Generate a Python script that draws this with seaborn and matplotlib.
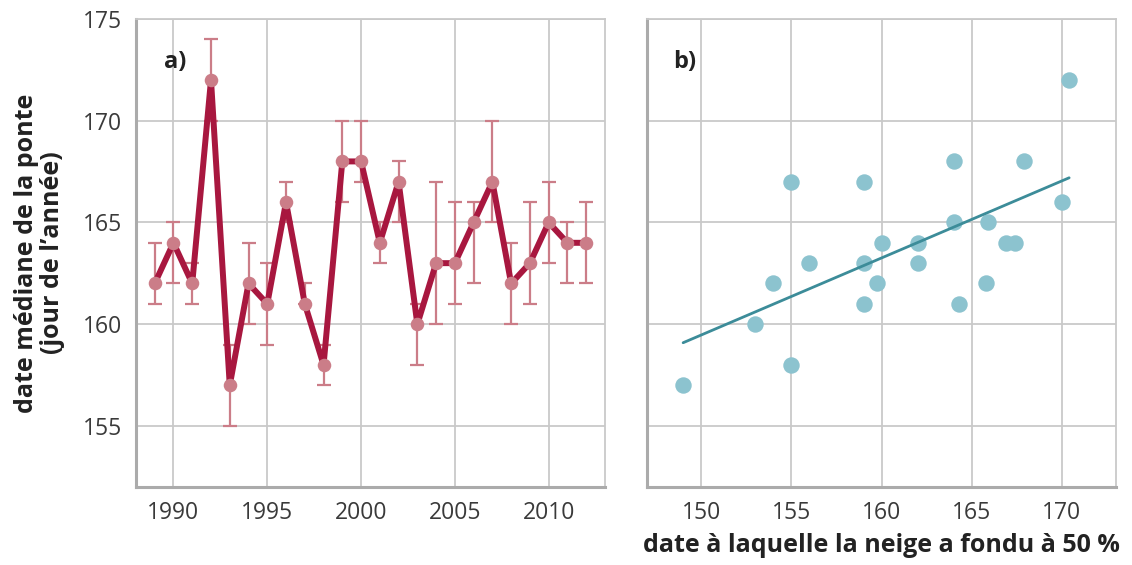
import numpy as np
import pandas as pd
import matplotlib
matplotlib.use("Agg")
import matplotlib.pyplot as plt
import seaborn as sns

# Panel a: median laying date per year, with low/high bounds
years = [1989, 1990, 1991, 1992, 1993, 1994, 1995, 1996, 1997, 1998, 1999, 2000,
         2001, 2002, 2003, 2004, 2005, 2006, 2007, 2008, 2009, 2010, 2011, 2012]
median_date = [162, 164, 162, 172, 157, 162, 161, 166, 161, 158, 168, 168,
               164, 167, 160, 163, 163, 165, 167, 162, 163, 165, 164, 164]
low_bound = [161, 162, 161, 170, 155, 160, 159, 165, 161, 157, 166, 167,
             163, 165, 158, 160, 161, 162, 165, 160, 161, 163, 162, 162]
high_bound = [164, 165, 163, 174, 159, 164, 163, 167, 162, 159, 170, 170,
              165, 168, 161, 167, 166, 166, 170, 164, 166, 167, 165, 166]

# Panel b: date of 50 % snow melt vs median laying date
snow_melt = [149, 155, 153, 154, 156, 155, 159, 159, 160, 159.75, 159, 162,
             162, 164, 164, 164.3, 165.9, 165.8, 166.9, 167.4, 167.9, 170, 170.4]
laying_date = [157, 158, 160, 162, 163, 167, 167, 163, 164, 162, 161, 164,
               163, 168, 165, 161, 165, 162, 164, 164, 168, 166, 172]

df_a = pd.DataFrame({"year": years, "date": median_date,
                     "lo": low_bound, "hi": high_bound})
df_b = pd.DataFrame({"melt": snow_melt, "date": laying_date})

sns.set_theme(style="whitegrid")
plt.rcParams["font.family"] = ["Open Sans", "DejaVu Sans"]

LINE = "#A8173F"
PINK = "#CB7D88"
DOT = "#8CC3CF"
FIT = "#3C8C99"
GRID = "#C9C9C9"
TXT = "#3A3A3A"
LBL = "#222222"

fig = plt.figure(figsize=(11.32, 5.65), dpi=100)
ax_a = fig.add_axes([0.1201, 0.1381, 0.4143, 0.8283])
ax_b = fig.add_axes([0.5716, 0.1381, 0.4143, 0.8283], sharey=ax_a)

# --- panel a ---
ax_a.errorbar(df_a["year"], df_a["date"],
              yerr=[df_a["date"] - df_a["lo"], df_a["hi"] - df_a["date"]],
              fmt="none", ecolor=PINK, elinewidth=1.6, capsize=5.0,
              capthick=1.6, zorder=3)
sns.lineplot(data=df_a, x="year", y="date", ax=ax_a, color=LINE,
             linewidth=4.3, zorder=4)
sns.scatterplot(data=df_a, x="year", y="date", ax=ax_a, color=PINK,
                s=95, linewidth=0, zorder=5)
ax_a.set_xlim(1988, 2013)
ax_a.set_xticks([1990, 1995, 2000, 2005, 2010])
ax_a.set_ylim(152, 175)
ax_a.set_yticks([155, 160, 165, 170, 175])
ax_a.set_xlabel("")
ax_a.set_ylabel("date médiane de la ponte\n(jour de l’année)",
                fontsize=18, fontweight="bold", color=LBL,
                linespacing=1.05, labelpad=13)
ax_a.text(0.083, 0.908, "a)", transform=ax_a.transAxes, fontsize=17,
          fontweight="bold", color=LBL, ha="center", va="center")

# --- panel b ---
sns.regplot(data=df_b, x="melt", y="date", ax=ax_b, ci=None,
            scatter_kws=dict(color=DOT, s=140, linewidths=0, alpha=1, zorder=3),
            line_kws=dict(color=FIT, linewidth=2.0, zorder=4))
ax_b.set_xlim(147, 173)
ax_b.set_xticks([150, 155, 160, 165, 170])
ax_b.set_xlabel("date à laquelle la neige a fondu à 50 %", fontsize=18,
                fontweight="bold", color=LBL, labelpad=6)
ax_b.set_ylabel("")
ax_b.tick_params(axis="y", labelleft=False)
ax_b.text(0.081, 0.908, "b)", transform=ax_b.transAxes, fontsize=17,
          fontweight="bold", color=LBL, ha="center", va="center")

for ax in (ax_a, ax_b):
    ax.set_facecolor("white")
    ax.grid(True, color=GRID, linewidth=1.3)
    ax.tick_params(length=0, labelsize=16.5, labelcolor=TXT, pad=10)
    for side in ("top", "right"):
        ax.spines[side].set_color(GRID)
        ax.spines[side].set_linewidth(1.3)
    for side in ("left", "bottom"):
        ax.spines[side].set_color("#ABABAB")
        ax.spines[side].set_linewidth(2.2)

fig.savefig("out.png", dpi=100, facecolor="white")
